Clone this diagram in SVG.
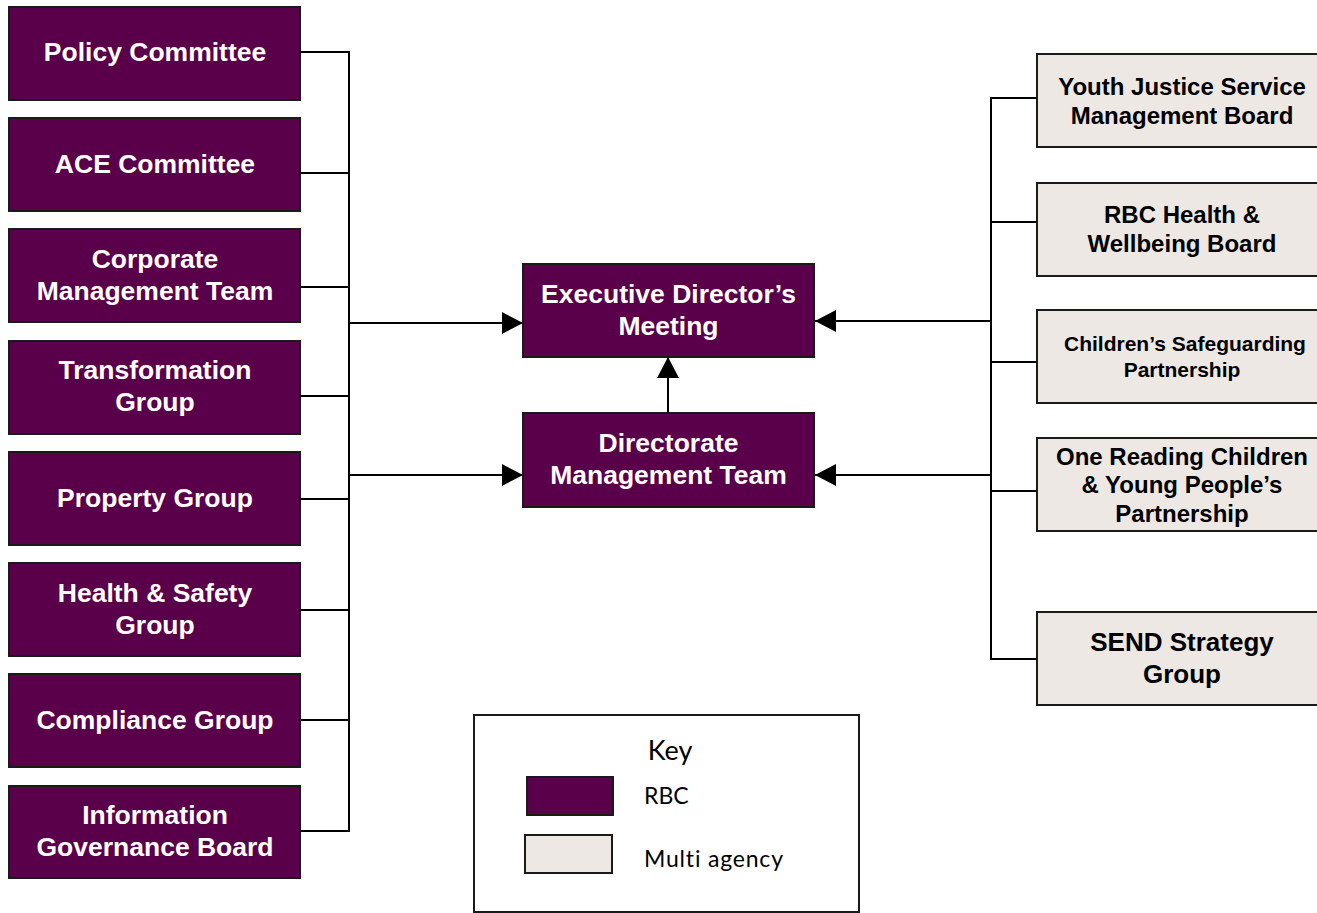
<svg xmlns="http://www.w3.org/2000/svg" width="1317" height="913" viewBox="0 0 1317 913">
  <style>
    .rbc { fill: #5a004a; stroke: #1a1a1a; stroke-width: 2; }
    .multi { fill: #ede8e4; stroke: #1a1a1a; stroke-width: 2; }
    .wt { font-family: "Liberation Sans", Arial, sans-serif; font-weight: bold; fill: #ffffff; text-anchor: middle; font-size: 26.5px; }
    .bt { font-family: "Liberation Sans", Arial, sans-serif; font-weight: bold; fill: #000000; text-anchor: middle; font-size: 24px; }
    .line { fill: none; stroke: #000000; stroke-width: 2; }
    .key { font-family: Lato, "Open Sans", sans-serif; fill: #000000; font-variant-ligatures: none; }
  </style>
  <defs>
    <marker id="arrow" markerUnits="userSpaceOnUse" markerWidth="22" markerHeight="22" viewBox="0 0 21 22" refX="21" refY="11" orient="auto">
      <path d="M0,0 L21,11 L0,22 Z" fill="#000000"/>
    </marker>
  </defs>

  <rect width="1317" height="913" fill="#ffffff"/>

  <!-- connectors -->
  <g id="connectors">
    <!-- left trunk and branches -->
    <path class="line" d="M300,52 H349 V831 H300"/>
    <path class="line" d="M300,173 H349 M300,287 H349 M300,396 H349 M300,499 H349 M300,610 H349 M300,720 H349"/>
    <path class="line" d="M349,323 H523" marker-end="url(#arrow)"/>
    <path class="line" d="M349,475 H523" marker-end="url(#arrow)"/>
    <!-- right trunk and branches -->
    <path class="line" d="M1037,98 H991 V659 H1037"/>
    <path class="line" d="M991,222 H1037 M991,362 H1037 M991,491 H1037"/>
    <path class="line" d="M991,321 H815" marker-end="url(#arrow)"/>
    <path class="line" d="M991,475 H815" marker-end="url(#arrow)"/>
    <!-- directorate to executive -->
    <path class="line" d="M668,413 V357" marker-end="url(#arrow)"/>
  </g>

  <!-- left column -->
  <g id="policy-committee">
    <rect class="rbc" x="9" y="7" width="291" height="93"/>
    <text class="wt" x="155" y="61">Policy Committee</text>
  </g>
  <g id="ace-committee">
    <rect class="rbc" x="9" y="118" width="291" height="93"/>
    <text class="wt" x="155" y="173">ACE Committee</text>
  </g>
  <g id="corporate-management-team">
    <rect class="rbc" x="9" y="229" width="291" height="93"/>
    <text class="wt" x="155" y="268">Corporate</text>
    <text class="wt" x="155" y="300">Management Team</text>
  </g>
  <g id="transformation-group">
    <rect class="rbc" x="9" y="341" width="291" height="93"/>
    <text class="wt" x="155" y="379">Transformation</text>
    <text class="wt" x="155" y="411">Group</text>
  </g>
  <g id="property-group">
    <rect class="rbc" x="9" y="452" width="291" height="93"/>
    <text class="wt" x="155" y="507">Property Group</text>
  </g>
  <g id="health-safety-group">
    <rect class="rbc" x="9" y="563" width="291" height="93"/>
    <text class="wt" x="155" y="602">Health &amp; Safety</text>
    <text class="wt" x="155" y="634">Group</text>
  </g>
  <g id="compliance-group">
    <rect class="rbc" x="9" y="674" width="291" height="93"/>
    <text class="wt" x="155" y="729">Compliance Group</text>
  </g>
  <g id="information-governance-board">
    <rect class="rbc" x="9" y="786" width="291" height="92"/>
    <text class="wt" x="155" y="824">Information</text>
    <text class="wt" x="155" y="856">Governance Board</text>
  </g>

  <!-- centre -->
  <g id="executive-directors-meeting">
    <rect class="rbc" x="523" y="264" width="291" height="93"/>
    <text class="wt" x="668.5" y="303">Executive Director’s</text>
    <text class="wt" x="668.5" y="335">Meeting</text>
  </g>
  <g id="directorate-management-team">
    <rect class="rbc" x="523" y="413" width="291" height="94"/>
    <text class="wt" x="668.5" y="452">Directorate</text>
    <text class="wt" x="668.5" y="484">Management Team</text>
  </g>

  <!-- right column -->
  <g id="youth-justice-board">
    <rect class="multi" x="1037" y="54" width="292" height="93"/>
    <text class="bt" x="1182" y="94.5">Youth Justice Service</text>
    <text class="bt" x="1182" y="123.5">Management Board</text>
  </g>
  <g id="health-wellbeing-board">
    <rect class="multi" x="1037" y="183" width="292" height="93"/>
    <text class="bt" x="1182" y="222.5">RBC Health &amp;</text>
    <text class="bt" x="1182" y="251.5">Wellbeing Board</text>
  </g>
  <g id="safeguarding-partnership">
    <rect class="multi" x="1037" y="310" width="292" height="93"/>
    <text class="bt" x="1185" y="350.5" style="font-size:21px">Children’s Safeguarding</text>
    <text class="bt" x="1182" y="376.5" style="font-size:21px">Partnership</text>
  </g>
  <g id="one-reading-partnership">
    <rect class="multi" x="1037" y="438" width="292" height="93"/>
    <text class="bt" x="1182" y="464.5">One Reading Children</text>
    <text class="bt" x="1182" y="492.5">&amp; Young People’s</text>
    <text class="bt" x="1182" y="521.5">Partnership</text>
  </g>
  <g id="send-strategy-group">
    <rect class="multi" x="1037" y="612" width="292" height="93"/>
    <text class="bt" x="1182" y="651" style="font-size:26px">SEND Strategy</text>
    <text class="bt" x="1182" y="683" style="font-size:26px">Group</text>
  </g>

  <!-- key -->
  <g id="key">
    <rect x="474" y="715" width="385" height="197" fill="#ffffff" stroke="#1a1a1a" stroke-width="2"/>
    <text class="key" x="670" y="760" font-size="27" text-anchor="middle">Key</text>
    <rect class="rbc" x="527" y="777" width="86" height="38"/>
    <text class="key" x="644" y="804" font-size="23">RBC</text>
    <rect class="multi" x="525" y="835" width="87" height="38"/>
    <text class="key" x="644" y="867" font-size="23" textLength="139" lengthAdjust="spacing">Multi agency</text>
  </g>
</svg>
